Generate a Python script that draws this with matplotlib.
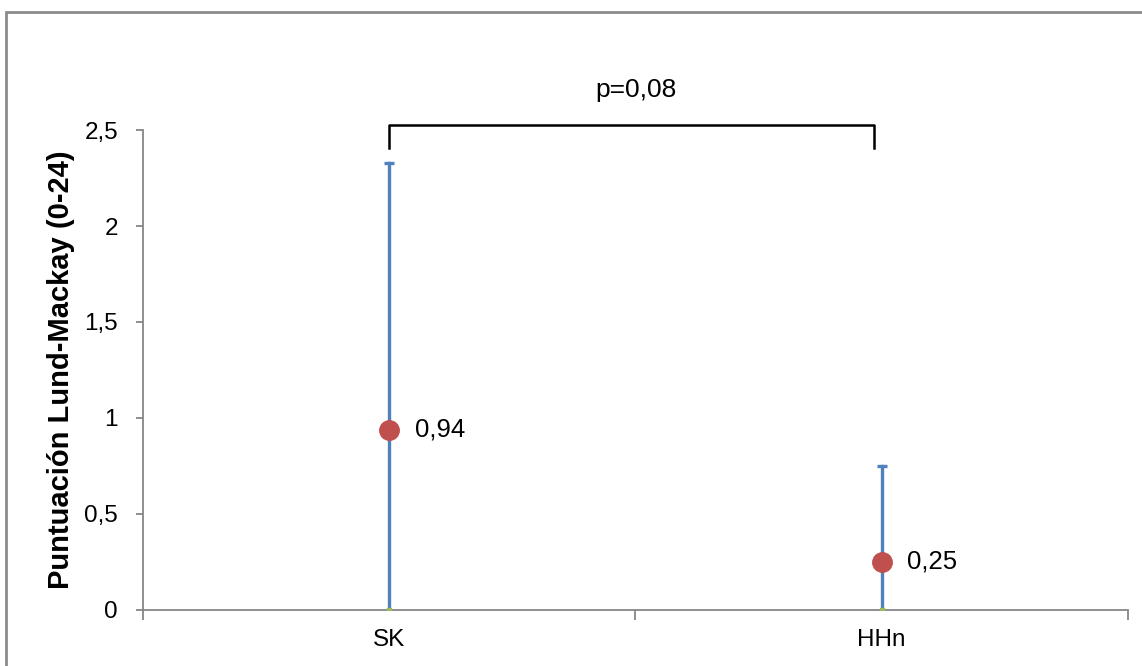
import matplotlib.pyplot as plt
from matplotlib.patches import Rectangle

plt.rcParams['font.family'] = ['Liberation Sans', 'DejaVu Sans']

# datos
grupos = ["SK", "HHn"]
medias = [0.94, 0.25]
etiquetas = ["0,94", "0,25"]
err_inf = [0.94, 0.25]
err_sup = [1.39, 0.50]
p_texto = "p=0,08"
yticks = [0, 0.5, 1, 1.5, 2, 2.5]
ytick_labels = ["0", "0,5", "1", "1,5", "2", "2,5"]

fig = plt.figure(figsize=(11.42, 6.66), dpi=100)
ax = fig.add_axes([0.1252, 0.0841, 0.8625, 0.7207])

x = [0.5, 1.5]
azul = "#4F81BD"
rojo = "#C0504D"

# barras de error: solo el tope superior lleva remate
for xi, m, lo, hi in zip(x, medias, err_inf, err_sup):
    ax.plot([xi, xi], [m - lo, m + hi], color=azul, lw=2.4, zorder=2)
    ax.plot([xi - 0.01, xi + 0.01], [m + hi, m + hi], color=azul, lw=2.4,
            solid_capstyle='butt', zorder=2)
    ax.plot([xi], [m - lo], marker='s', ms=3, color="#9BBB59", zorder=3)

ax.plot(x, medias, 'o', ms=14, color=rojo, linestyle='none', zorder=4)
for xi, m, t in zip(x, medias, etiquetas):
    ax.text(xi + 0.052, m, t, fontsize=18.5, va='center', ha='left')

ax.set_xlim(0, 2)
ax.set_ylim(0, 2.5)
ax.set_yticks(yticks)
ax.set_yticklabels(ytick_labels, fontsize=17.5)
ax.set_xticks(x)
ax.set_xticklabels(grupos, fontsize=17.5)
ax.set_xticks([0, 1, 2], minor=True)
ax.tick_params(axis='x', which='major', length=0, pad=14)
ax.tick_params(axis='x', which='minor', length=7, direction='out', color='#868686', width=1.3)
ax.tick_params(axis='y', length=5, direction='out', color='#868686', width=1.3, pad=13)

for s in ['top', 'right']:
    ax.spines[s].set_visible(False)
for s in ['left', 'bottom']:
    ax.spines[s].set_color('#868686')
    ax.spines[s].set_linewidth(1.3)

ax.set_ylabel("Puntuación Lund-Mackay (0-24)", fontsize=21, fontweight='bold', labelpad=7)

# corchete de significancia
yb_top = 2.526
yb_bot = 2.406
ax.plot([0.5, 0.5, 1.484, 1.484], [yb_bot, yb_top, yb_top, yb_bot], color='black',
        lw=1.8, clip_on=False)
ax.text(1.0, 2.71, p_texto, fontsize=19, ha='center', va='center')

# marco exterior
fig.patches.append(Rectangle((6 / 1142, -0.05), 1.1, 1 - 12 / 666 + 0.05,
                             transform=fig.transFigure, fill=False,
                             edgecolor='#8c8c8c', lw=2))

fig.savefig("out.png", dpi=100)
